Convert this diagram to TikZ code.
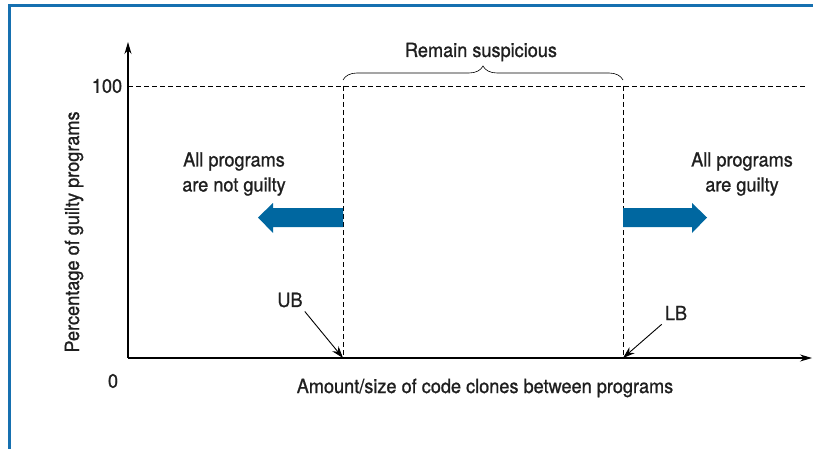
\documentclass[tikz,border=0pt]{standalone}
\usepackage{fontspec}
\setmainfont[FakeStretch=0.93,FakeBold=1]{TeX Gyre Heros}
\usetikzlibrary{arrows.meta,decorations.pathreplacing}
\definecolor{framebl}{RGB}{22,112,176}
\definecolor{arrowbl}{RGB}{0,103,160}
\begin{document}
\begin{tikzpicture}[x=1pt,y=-1pt,
    lbl/.style={font=\fontsize{19.5}{25}\selectfont, inner sep=0pt, align=center, text=black!88},
    axis/.style={-{Stealth[length=12pt,width=7pt]}, line width=1.1pt},
    guide/.style={dash pattern=on 5pt off 3pt, line width=0.7pt},
    pointer/.style={-{Stealth[length=12pt,width=8pt]}, line width=0.9pt},
    fat/.style={fill=arrowbl, draw=none}
]
    \useasboundingbox (0,0) rectangle (813,449);
    \draw[framebl, line width=3pt] (9.5,449) -- (9.5,6) -- (813,6);

    % axes
    \coordinate (origin) at (128,358);
    \coordinate (ytip) at (128,42);
    \coordinate (xtip) at (812,358);
    \draw[axis] (origin) -- (ytip);
    \draw[axis] (origin) -- (xtip);

    % limits
    \coordinate (top0) at (128,86);
    \coordinate (topend) at (805,86);
    \coordinate (ubtop) at (343,86);
    \coordinate (ub) at (343,358);
    \coordinate (lbtop) at (623,86);
    \coordinate (lb) at (623,358);
    \draw[guide] (top0) -- (topend);
    \draw[guide] (ubtop) -- (ub);
    \draw[guide] (lbtop) -- (lb);

    \node[lbl] (hundred) at (107,86) {100};
    \node[lbl] (zero) at (113,381) {0};
    \node[lbl, rotate=90] (ylabel) at (74,232) {Percentage of guilty programs};
    \node[lbl] (xlabel) at (485,388) {Amount/size of code clones between programs};

    % suspicious band
    \draw[decorate, decoration={brace, amplitude=14pt}, line width=0.6pt] (343,80) -- (623,80);
    \node[lbl] (suspicious) at (481,52) {Remain suspicious};

    % block arrows
    \fill[fat] (343,208) -- (273,208) -- (273,203) -- (258,217.5) -- (273,233) -- (273,227) -- (343,227) -- cycle;
    \fill[fat] (623,208) -- (692,208) -- (692,203) -- (707,217.5) -- (692,233) -- (692,227) -- (623,227) -- cycle;

    \node[lbl] (notguilty) at (234,174) {All programs\\are not guilty};
    \node[lbl] (guilty) at (742,174) {All programs\\are guilty};

    % bounds
    \node[lbl] (ublabel) at (290,300) {UB};
    \node[lbl] (lblabel) at (676,313) {LB};
    \draw[pointer] (ublabel.south east) ++(2,4) -- (ub);
    \draw[pointer] (lblabel.south west) ++(-3,4) -- (lb);
\end{tikzpicture}
\end{document}
